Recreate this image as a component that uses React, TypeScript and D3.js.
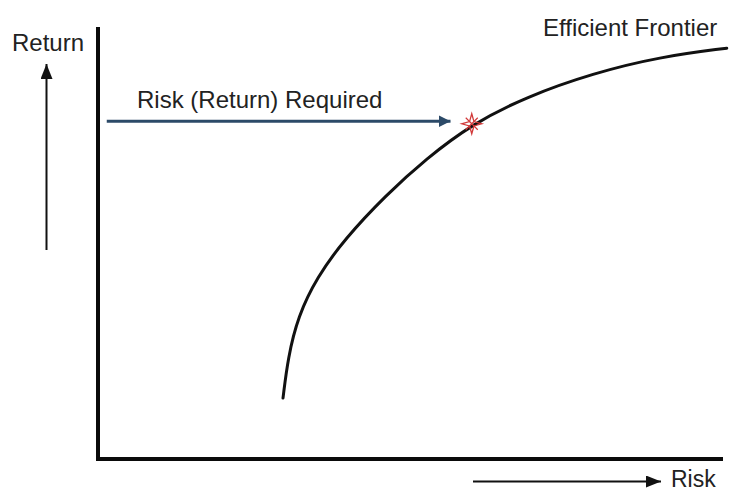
import React, { useEffect, useRef } from 'react';
import * as d3 from 'd3';

// frontier points (risk, return on a 0-100 scale)
const frontierRisk = [29.6, 30.4, 32.0, 35.0, 39.5, 46.0, 52.5, 59.8, 68.6, 79.2, 89.9, 100.6];
const frontierReturn = [14.1, 23.5, 33.0, 42.0, 51.0, 61.0, 69.5, 77.5, 83.9, 89.3, 93.1, 95.1];

// the required point and the arrow that reaches it
const requiredPoint = [59.8, 77.6];
const requiredArrow = [1.4, 56.4, 78.2]; // xStart, xEnd, return level

const labels = ['Return', 'Risk (Return) Required', 'Efficient Frontier', 'Risk'];

const W = 734;
const H = 491;

export default function App() {
  const ref = useRef<SVGSVGElement>(null);

  useEffect(() => {
    let svg = d3.select(ref.current);
    svg.selectAll('*').remove();

    let p = { top: 27, left: 98, right: 11, bottom: 32 };
    let font = '"Liberation Sans", Arial, sans-serif';

    let xScale = d3.scaleLinear().domain([0, 100]).range([p.left, W - p.right]);
    let yScale = d3.scaleLinear().domain([0, 100]).range([H - p.bottom, p.top]);

    let defs = svg.append('defs');
    let marker = (id, color, w, h) => {
      defs.append('marker')
        .attr('id', id)
        .attr('viewBox', `0 0 ${w} ${h}`)
        .attr('refX', w)
        .attr('refY', h / 2)
        .attr('markerWidth', w)
        .attr('markerHeight', h)
        .attr('markerUnits', 'userSpaceOnUse')
        .attr('orient', 'auto')
        .append('path')
        .attr('d', `M0,0 L${w},${h / 2} L0,${h} Z`)
        .attr('fill', color);
    };
    marker('blackHead', '#111', 15, 12);
    marker('blueHead', '#2c4a68', 12, 12);

    svg.append('rect').attr('width', W).attr('height', H).attr('fill', '#fff');

    // axes (just two thick lines)
    svg.append('line')
      .attr('x1', xScale(0)).attr('x2', xScale(0))
      .attr('y1', yScale(100)).attr('y2', yScale(0) + 2)
      .attr('stroke', '#0a0a0a').attr('stroke-width', 4);
    svg.append('line')
      .attr('x1', xScale(0) - 2).attr('x2', xScale(100))
      .attr('y1', yScale(0)).attr('y2', yScale(0))
      .attr('stroke', '#0a0a0a').attr('stroke-width', 4);

    // "Return" label + arrow up
    svg.append('text')
      .attr('x', 12).attr('y', 51)
      .text(labels[0])
      .attr('font-family', font).attr('font-size', 24).attr('fill', '#222');
    svg.append('line')
      .attr('x1', 46.5).attr('x2', 46.5)
      .attr('y1', 250).attr('y2', 64)
      .attr('stroke', '#111').attr('stroke-width', 2)
      .attr('marker-end', 'url(#blackHead)');

    // "Risk" label + arrow right
    svg.append('line')
      .attr('x1', 473).attr('x2', 661)
      .attr('y1', 481.5).attr('y2', 481.5)
      .attr('stroke', '#111').attr('stroke-width', 2)
      .attr('marker-end', 'url(#blackHead)');
    svg.append('text')
      .attr('x', 671).attr('y', 487)
      .text(labels[3])
      .attr('font-family', font).attr('font-size', 23).attr('fill', '#222');

    // frontier curve
    let pts = frontierRisk.map((r, i) => [r, frontierReturn[i]]);
    let line = d3.line()
      .x(d => xScale(d[0]))
      .y(d => yScale(d[1]))
      .curve(d3.curveBasis);
    svg.append('path')
      .attr('d', line(pts))
      .attr('fill', 'none')
      .attr('stroke', '#111')
      .attr('stroke-width', 3)
      .attr('stroke-linecap', 'round');

    svg.append('text')
      .attr('x', 543).attr('y', 36)
      .text(labels[2])
      .attr('font-family', font).attr('font-size', 24).attr('fill', '#222');

    // required return arrow
    svg.append('line')
      .attr('x1', xScale(requiredArrow[0])).attr('x2', xScale(requiredArrow[1]))
      .attr('y1', yScale(requiredArrow[2])).attr('y2', yScale(requiredArrow[2]))
      .attr('stroke', '#2c4a68').attr('stroke-width', 3)
      .attr('marker-end', 'url(#blueHead)');
    svg.append('text')
      .attr('x', 137).attr('y', 108)
      .text(labels[1])
      .attr('font-family', font).attr('font-size', 24).attr('fill', '#222');

    // red star on the frontier
    let cx = xScale(requiredPoint[0]), cy = yScale(requiredPoint[1]);
    let star = svg.append('g').attr('transform', `translate(${cx},${cy})`);
    star.append('path')
      .attr('d', 'M0,-10 L2.2,-2.2 L10,0 L2.2,2.2 L0,10 L-2.2,2.2 L-10,0 L-2.2,-2.2 Z')
      .attr('fill', 'none').attr('stroke', '#d23a3a').attr('stroke-width', 1.3);
    star.append('path')
      .attr('d', 'M-6,-6 L6,6 M-6,6 L6,-6')
      .attr('stroke', '#d23a3a').attr('stroke-width', 1.2);
  }, []);

  return (
    <svg ref={ref} width={W} height={H}
         style={{ position: 'absolute', left: 0, top: 0, display: 'block' }} />
  );
}
